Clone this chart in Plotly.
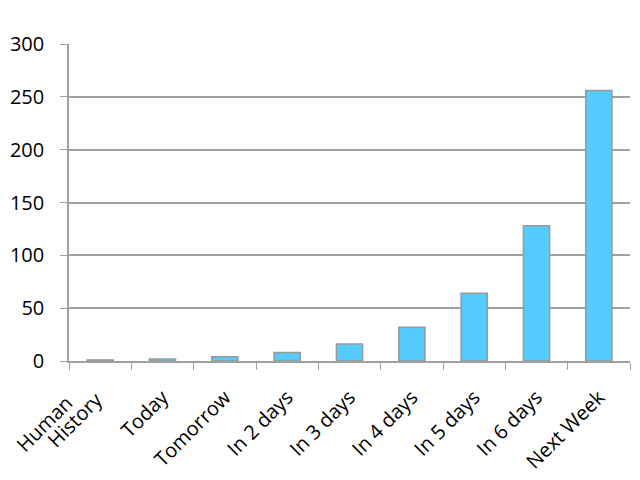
import plotly.graph_objects as go

categories = ["Human History", "Today", "Tomorrow", "In 2 days", "In 3 days",
              "In 4 days", "In 5 days", "In 6 days", "Next Week"]
values = [1, 2, 4, 8, 16, 32, 64, 128, 256]
y_ticks = [0, 50, 100, 150, 200, 250, 300]

fig = go.Figure(go.Bar(
    x=categories, y=values,
    marker=dict(color="#55CCFF", line=dict(color="#999999", width=1.5)),
))

# the two-line first label is drawn as two rotated texts, side by side as in the reference
first_lines = categories[0].split(" ")
ticktext = [""] + categories[1:]
for line, dx, dy in zip(first_lines, [-19, 11], [-26, -22]):
    fig.add_annotation(
        x=0, xref="x", y=0, yref="paper",
        text=line, textangle=-45, showarrow=False,
        xanchor="right", yanchor="top", xshift=dx, yshift=dy,
        font=dict(size=20, family="Open Sans", color="black"),
    )

# the page body has an 8px default margin, so the figure is 8px smaller
fig.update_layout(
    width=632, height=472,
    margin=dict(l=61, r=10, t=36, b=119),
    plot_bgcolor="white", paper_bgcolor="white",
    bargap=0.58,
    showlegend=False,
    font=dict(family="Open Sans", color="black"),
)
fig.update_xaxes(
    type="category", categoryorder="array", categoryarray=categories,
    range=[-0.5, len(categories) - 0.5],
    tickvals=list(range(len(categories))), ticktext=ticktext,
    tickangle=-45, tickfont=dict(size=20), tickson="boundaries",
    ticks="outside", ticklen=7, tickcolor="#a0a0a0",
    showline=True, linecolor="#a0a0a0", linewidth=1.5,
    showgrid=False, automargin=False, ticklabelstandoff=15,
)
fig.update_yaxes(
    range=[0, 300], tickvals=y_ticks, tickfont=dict(size=20),
    ticks="outside", ticklen=7, tickcolor="#a0a0a0",
    showline=True, linecolor="#a0a0a0", linewidth=1.5,
    showgrid=True, gridcolor="#a0a0a0", gridwidth=1.5,
    zeroline=False, automargin=False, ticklabelstandoff=12,
)

fig.write_html("out.html")
